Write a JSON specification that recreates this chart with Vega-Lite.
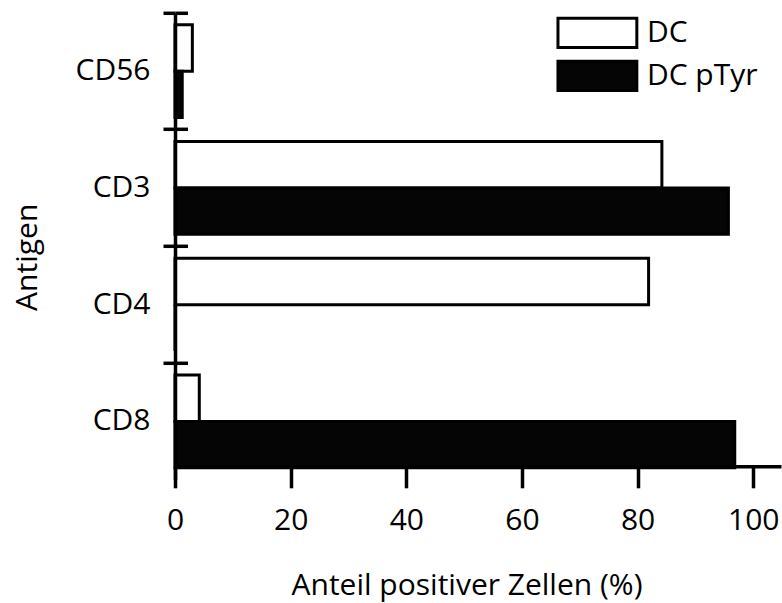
{
  "$schema": "https://vega.github.io/schema/vega-lite/v6.json",
  "autosize": {"type": "none"},
  "padding": {"left": 175, "top": 12.8, "right": 1, "bottom": 123.2},
  "width": 606,
  "height": 467,
  "config": {
    "view": {"stroke": null},
    "font": "Open Sans",
    "axis": {"grid": false, "domainColor": "#000", "tickColor": "#000", "labelColor": "#000", "titleColor": "#000", "titleFontWeight": "normal"}
  },
  "data": {
    "values": [
      {"antigen": "CD56", "series": "DC", "value": 3.0},
      {"antigen": "CD56", "series": "DC pTyr", "value": 1.25},
      {"antigen": "CD3", "series": "DC", "value": 84.2},
      {"antigen": "CD3", "series": "DC pTyr", "value": 95.7},
      {"antigen": "CD4", "series": "DC", "value": 81.9},
      {"antigen": "CD4", "series": "DC pTyr", "value": 0},
      {"antigen": "CD8", "series": "DC", "value": 4.2},
      {"antigen": "CD8", "series": "DC pTyr", "value": 96.8}
    ]
  },
  "resolve": {"axis": {"y": "independent"}},
  "layer": [
    {
      "mark": {"type": "bar", "stroke": "#000", "strokeWidth": 3},
      "encoding": {
        "y": {
          "field": "antigen", "type": "nominal",
          "sort": ["CD56", "CD3", "CD4", "CD8"],
          "scale": {"paddingInner": 0, "paddingOuter": 0},
          "axis": {
            "orient": "left", "title": "Antigen",
            "bandPosition": 0, "tickExtra": false,
            "tickSize": 12, "tickWidth": 3.5, "domainWidth": 3.5,
            "labelFontSize": 30, "labelPadding": 13, "labelFont": "Open Sans",
            "titleFontSize": 30, "titleFont": "Open Sans",
            "titleX": -133, "titleY": 244,
            "zindex": 1
          }
        },
        "yOffset": {
          "field": "series", "type": "nominal",
          "scale": {"paddingInner": 0, "paddingOuter": 0.26}
        },
        "x": {
          "field": "value", "type": "quantitative",
          "scale": {"domain": [0, 104.8], "nice": false},
          "axis": {
            "title": "Anteil positiver Zellen (%)",
            "values": [0, 20, 40, 60, 80, 100],
            "offset": -13.5,
            "tickSize": 21.5, "tickWidth": 3.5, "domainWidth": 3.5,
            "labelFontSize": 30, "labelPadding": 18, "labelFont": "Open Sans",
            "labelFlush": false, "labelOverlap": false,
            "titleFontSize": 30, "titleFont": "Open Sans",
            "titleX": 291.5, "titleY": 104.5, "titleBaseline": "top",
            "zindex": 1
          }
        },
        "fill": {
          "field": "series", "type": "nominal",
          "scale": {"domain": ["DC", "DC pTyr"], "range": ["#ffffff", "#050505"]},
          "legend": {
            "orient": "none", "legendX": 405.9, "legendY": 3.5,
            "title": null, "direction": "vertical",
            "symbolType": "M-2.7,-1H2.7V1H-2.7Z", "symbolSize": 853,
            "symbolStrokeColor": "#000", "symbolStrokeWidth": 3, "symbolOpacity": 1,
            "labelFontSize": 30, "labelFont": "Open Sans", "labelColor": "#000",
            "labelOffset": 33, "rowPadding": 0, "padding": 0
          }
        }
      }
    },
    {
      "mark": {"type": "tick", "opacity": 0},
      "encoding": {
        "y": {
          "field": "antigen", "type": "nominal",
          "sort": ["CD56", "CD3", "CD4", "CD8"],
          "axis": {
            "orient": "left", "title": null, "labels": false, "domain": false,
            "bandPosition": 0, "tickExtra": false,
            "tickSize": -12.5, "tickWidth": 3.5, "zindex": 1
          }
        }
      }
    }
  ]
}
